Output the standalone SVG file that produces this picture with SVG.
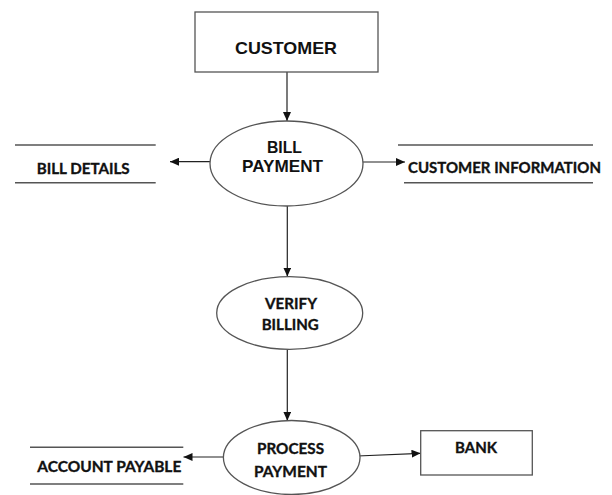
<svg xmlns="http://www.w3.org/2000/svg" width="612" height="495" viewBox="0 0 612 495">
  <style>
    .box { fill: #fff; stroke: #555; stroke-width: 1.3; }
    .proc { fill: #fff; stroke: #555; stroke-width: 1.3; }
    .store { stroke: #555; stroke-width: 1.5; }
    .flow { fill: none; stroke: #222; stroke-width: 1.2; marker-end: url(#arrow); }
    .arial { font-family: "Liberation Sans", Arial, sans-serif; font-weight: bold; font-size: 17px; fill: #111; }
    .cal { font-family: Lato, "Liberation Sans", sans-serif; font-weight: bold; font-size: 15.5px; fill: #111; stroke: #111; stroke-width: 0.35; }
  </style>
  <defs>
    <marker id="arrow" markerUnits="userSpaceOnUse" markerWidth="10" markerHeight="8" refX="9" refY="4" orient="auto">
      <path d="M0,0 L9,4 L0,8 Z" fill="#111"/>
    </marker>
  </defs>

  <rect width="612" height="495" fill="#fff"/>

  <!-- connectors -->
  <g id="connectors">
    <line class="flow" x1="287" y1="72" x2="287" y2="121"/>
    <line class="flow" x1="210" y1="161.7" x2="170" y2="161.7"/>
    <line class="flow" x1="363" y1="162" x2="405" y2="162"/>
    <line class="flow" x1="287.3" y1="206" x2="287.3" y2="276.5"/>
    <line class="flow" x1="287.3" y1="349.3" x2="287.3" y2="420.7"/>
    <line class="flow" x1="223" y1="457" x2="183.5" y2="457"/>
    <line class="flow" x1="357.3" y1="456" x2="420.5" y2="453.3"/>
  </g>

  <!-- external entity -->
  <g id="customer">
    <rect class="box" x="195" y="12" width="183" height="60"/>
    <text class="arial" x="235" y="54" textLength="102" lengthAdjust="spacingAndGlyphs">CUSTOMER</text>
  </g>

  <!-- processes -->
  <g id="bill-payment">
    <ellipse class="proc" cx="286.5" cy="163.5" rx="76.5" ry="42.5"/>
    <text class="arial" x="267" y="153" textLength="35" lengthAdjust="spacingAndGlyphs">BILL</text>
    <text class="arial" x="242" y="172" textLength="81" lengthAdjust="spacingAndGlyphs">PAYMENT</text>
  </g>

  <g id="verify-billing">
    <ellipse class="proc" cx="289.7" cy="313" rx="73" ry="36.3"/>
    <text class="cal" x="265" y="309.3" textLength="52" lengthAdjust="spacingAndGlyphs">VERIFY</text>
    <text class="cal" x="261.7" y="330" textLength="57" lengthAdjust="spacingAndGlyphs">BILLING</text>
  </g>

  <g id="process-payment">
    <ellipse class="proc" cx="291.7" cy="457.5" rx="68.3" ry="37"/>
    <text class="cal" x="257" y="454" textLength="67" lengthAdjust="spacingAndGlyphs">PROCESS</text>
    <text class="cal" x="254" y="477.3" textLength="73" lengthAdjust="spacingAndGlyphs">PAYMENT</text>
  </g>

  <!-- data stores -->
  <g id="bill-details">
    <line class="store" x1="15" y1="145" x2="155.7" y2="145"/>
    <line class="store" x1="15" y1="182.7" x2="155.7" y2="182.7"/>
    <text class="cal" x="36.7" y="174.3" textLength="93" lengthAdjust="spacingAndGlyphs">BILL DETAILS</text>
  </g>

  <g id="customer-information">
    <line class="store" x1="398" y1="145" x2="593" y2="145"/>
    <line class="store" x1="404" y1="182.7" x2="593" y2="182.7"/>
    <text class="cal" x="408" y="173.3" textLength="193" lengthAdjust="spacingAndGlyphs">CUSTOMER INFORMATION</text>
  </g>

  <g id="account-payable">
    <line class="store" x1="30" y1="447.3" x2="183.3" y2="447.3"/>
    <line class="store" x1="30" y1="484" x2="183.3" y2="484"/>
    <text class="cal" x="37.3" y="471.7" textLength="144" lengthAdjust="spacingAndGlyphs">ACCOUNT PAYABLE</text>
  </g>

  <!-- external entity -->
  <g id="bank">
    <rect class="box" x="420.7" y="430.7" width="111.6" height="44.3"/>
    <text class="cal" x="455" y="452.7" textLength="42" lengthAdjust="spacingAndGlyphs">BANK</text>
  </g>
</svg>
